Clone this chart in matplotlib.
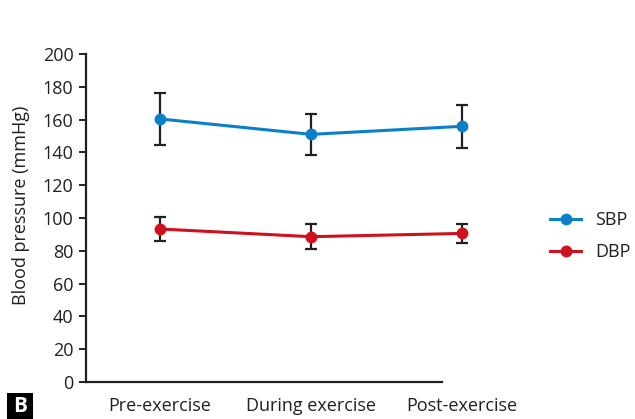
import matplotlib
matplotlib.use("Agg")
import matplotlib.pyplot as plt
from matplotlib.patches import Rectangle

plt.rcParams['font.family'] = ['Open Sans', 'DejaVu Sans']

phases = ["Pre-exercise", "During exercise", "Post-exercise"]
sbp_mean = [160.4, 151.0, 155.9]
sbp_sd = [15.8, 12.6, 13.3]
dbp_mean = [93.3, 88.6, 90.6]
dbp_sd = [7.1, 7.6, 5.8]
y_ticks = [0, 20, 40, 60, 80, 100, 120, 140, 160, 180, 200]

blue = "#0a80ca"
red = "#cf111d"
ink = "#231f20"

W, H = 635, 419
fig = plt.figure(figsize=(W / 100, H / 100), dpi=100)
ax_l, ax_r, ax_t, ax_b = 86, 490, 54, 382
ax = fig.add_axes([ax_l / W, 1 - ax_b / H, (ax_r - ax_l) / W, (ax_b - ax_t) / H])

x = list(range(len(phases)))
step = 151.0
x_left = -(160 - ax_l) / step
x_right = 2 + (ax_r - 462) / step
ax.set_xlim(x_left, x_right)
ax.set_ylim(0, 200)

for mean, sd, col, name in [(sbp_mean, sbp_sd, blue, "SBP"), (dbp_mean, dbp_sd, red, "DBP")]:
    ax.errorbar(x, mean, yerr=sd, fmt="none", ecolor=ink, elinewidth=1.6,
                capsize=4.5, capthick=1.6, zorder=2)
    ax.plot(x, mean, color=col, lw=2.2, marker="o", markersize=7.5, label=name, zorder=3)

for s in ["top", "right"]:
    ax.spines[s].set_visible(False)
for s in ["left", "bottom"]:
    ax.spines[s].set_linewidth(1.6)
    ax.spines[s].set_color(ink)
ax.spines["bottom"].set_bounds(x_left, (442 - 160) / step)

ax.set_yticks(y_ticks)
ax.set_xticks(x)
ax.set_xticklabels(phases)
ax.tick_params(axis="y", length=5, width=1.4, color=ink, labelsize=13, labelcolor=ink, pad=4)
ax.tick_params(axis="x", length=0, labelsize=13, labelcolor=ink, pad=11)
ax.set_ylabel("Blood pressure (mmHg)", fontsize=13, color=ink)
ax.yaxis.set_label_coords((30 - ax_l) / (ax_r - ax_l), (ax_b - 205) / (ax_b - ax_t))

ax.legend(loc="center left", bbox_to_anchor=((534 - ax_l) / (ax_r - ax_l), (ax_b - 236) / (ax_b - ax_t)),
          frameon=False, fontsize=13, handlelength=1.72, handletextpad=0.75,
          labelspacing=0.78, labelcolor=ink)

fig.patches.append(Rectangle((7 / W, 0), 26 / W, 26 / H, transform=fig.transFigure,
                             fc="black", ec="none"))
fig.text(20 / W, 1 - 406 / H, "B", fontsize=15, fontweight="bold", color="white",
         ha="center", va="center")

fig.savefig("out.png", dpi=100)
